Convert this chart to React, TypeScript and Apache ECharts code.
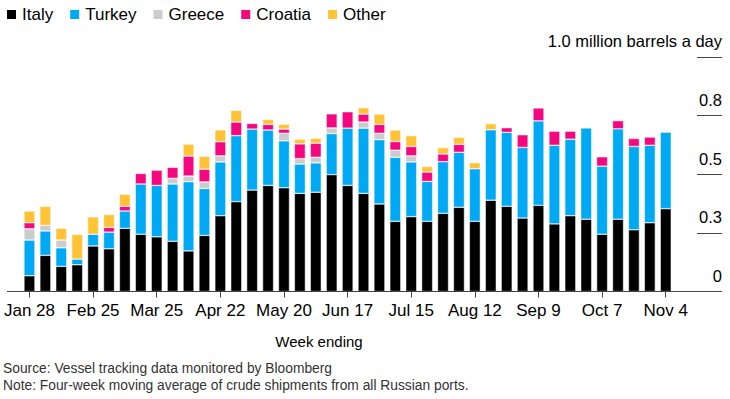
import React, { useEffect, useRef } from "react";
import * as echarts from "echarts";

const weeks = [
  "Jan 28", "Feb 4", "Feb 11", "Feb 18", "Feb 25", "Mar 4", "Mar 11", "Mar 18", "Mar 25",
  "Apr 1", "Apr 8", "Apr 15", "Apr 22", "Apr 29", "May 6", "May 13", "May 20", "May 27",
  "Jun 3", "Jun 10", "Jun 17", "Jun 24", "Jul 1", "Jul 8", "Jul 15", "Jul 22", "Jul 29",
  "Aug 5", "Aug 12", "Aug 19", "Aug 26", "Sep 2", "Sep 9", "Sep 16", "Sep 23", "Sep 30",
  "Oct 7", "Oct 14", "Oct 21", "Oct 28", "Nov 4",
];

const italy = [
  0.067, 0.154, 0.107, 0.114, 0.194, 0.182, 0.269, 0.244, 0.233, 0.214, 0.173, 0.239, 0.323,
  0.383, 0.432, 0.452, 0.442, 0.418, 0.423, 0.498, 0.452, 0.418, 0.373, 0.299, 0.319, 0.299,
  0.333, 0.359, 0.299, 0.389, 0.363, 0.313, 0.367, 0.288, 0.323, 0.308, 0.244, 0.308, 0.263,
  0.293, 0.353,
];
const turkey = [
  0.152, 0.104, 0.079, 0.024, 0.05, 0.071, 0.074, 0.214, 0.219, 0.244, 0.295, 0.2, 0.229,
  0.281, 0.26, 0.236, 0.2, 0.125, 0.125, 0.175, 0.244, 0.278, 0.274, 0.273, 0.233, 0.17,
  0.22, 0.234, 0.224, 0.3, 0.315, 0.301, 0.36, 0.335, 0.326, 0.389, 0.29, 0.385, 0.355,
  0.33, 0.326,
];
const greece = [
  0.048, 0.024, 0.033, 0, 0, 0, 0, 0, 0, 0.024, 0.024, 0.028, 0.026, 0, 0, 0, 0.032, 0.023,
  0.024, 0.024, 0, 0.026, 0.027, 0.03, 0.026, 0, 0, 0, 0, 0, 0, 0, 0, 0, 0, 0, 0, 0, 0, 0, 0,
];
const croatia = [
  0.026, 0, 0, 0, 0, 0.02, 0.02, 0.045, 0.065, 0.047, 0.085, 0.054, 0.06, 0.058, 0.024,
  0.024, 0.018, 0.063, 0.06, 0.06, 0.07, 0.034, 0.038, 0.037, 0.04, 0.04, 0.033, 0.034, 0,
  0, 0.02, 0.054, 0.055, 0.06, 0.034, 0, 0.04, 0.035, 0.034, 0.035, 0,
];
const other = [
  0.05, 0.081, 0.05, 0.105, 0.074, 0.055, 0.051, 0, 0, 0, 0.051, 0.055, 0.051, 0.05, 0,
  0.021, 0.021, 0.02, 0.021, 0, 0, 0.027, 0.044, 0.049, 0.046, 0.024, 0.027, 0.03, 0.026,
  0.026, 0, 0, 0, 0, 0, 0, 0, 0, 0, 0, 0,
];

const seriesNames = ["Italy", "Turkey", "Greece", "Croatia", "Other"];
const seriesColors = ["#000000", "#00a9f4", "#cccccc", "#f5077f", "#ffc335"];
const seriesData = [italy, turkey, greece, croatia, other];

const yTicks = [0, 0.25, 0.5, 0.75, 1];
const yTickLabels = ["0", "0.3", "0.5", "0.8", "1.0 million barrels a day"];

const FONT = "'Liberation Sans', Arial, Helvetica, sans-serif";

export default function App() {
  const ref = useRef<HTMLDivElement>(null);

  useEffect(() => {
    if (!ref.current) return;
    const chart = echarts.init(ref.current, null, { renderer: "svg" });
    chart.setOption({
      animation: false,
      backgroundColor: "#ffffff",
      textStyle: { fontFamily: FONT },
      legend: {
        left: 5,
        top: 6,
        padding: 0,
        icon: "rect",
        itemWidth: 11,
        itemHeight: 11,
        itemGap: 15,
        selectedMode: false,
        textStyle: { fontSize: 17, color: "#000", fontFamily: FONT },
        data: seriesNames,
      },
      grid: { left: 21.5, right: 56.3, top: 56.8, bottom: 107.5 },
      xAxis: {
        type: "category",
        data: weeks,
        axisLine: { show: false },
        axisTick: {
          show: true,
          alignWithLabel: true,
          interval: 3,
          length: 6,
          lineStyle: { color: "#444", width: 1 },
        },
        axisLabel: {
          interval: 3,
          fontSize: 17,
          color: "#000",
          margin: 10,
          fontFamily: FONT,
        },
      },
      yAxis: {
        type: "value",
        min: 0,
        max: 1,
        interval: 0.25,
        position: "right",
        offset: 48.3,
        splitLine: { show: false },
        axisLine: { show: false },
        axisTick: { show: true, inside: true, length: 25, lineStyle: { color: "#444", width: 1 } },
        axisLabel: {
          inside: true,
          margin: 0,
          fontSize: 16.5,
          color: "#000",
          fontFamily: FONT,
          align: "right",
          verticalAlign: "bottom",
          padding: [0, 0, 7, 0],
          formatter: (v: number) => {
            const i = yTicks.findIndex((t) => Math.abs(t - v) < 1e-6);
            return i >= 0 ? yTickLabels[i] : "";
          },
        },
      },
      series: seriesNames.map((name, i) => ({
        name,
        type: "bar",
        stack: "total",
        barWidth: 11,
        itemStyle: { color: seriesColors[i], borderColor: "#ffffff", borderWidth: 0.5 },
        data: seriesData[i].map((v) => (v > 0 ? v : null)),
      })),
      graphic: [
        {
          type: "line",
          shape: { x1: 7, y1: 291.5, x2: 722, y2: 291.5 },
          style: { stroke: "#444", lineWidth: 1 },
          z: 10,
        },
        {
          type: "text",
          x: 319,
          y: 341,
          style: {
            text: "Week ending",
            fontSize: 15,
            fill: "#000",
            fontFamily: FONT,
            align: "center",
            verticalAlign: "middle",
          },
        },
        {
          type: "text",
          x: 3,
          y: 368,
          style: {
            text: "Source: Vessel tracking data monitored by Bloomberg",
            fontSize: 13.8,
            fill: "#333",
            fontFamily: FONT,
            align: "left",
            verticalAlign: "middle",
          },
        },
        {
          type: "text",
          x: 3,
          y: 385,
          style: {
            text: "Note: Four-week moving average of crude shipments from all Russian ports.",
            fontSize: 13.8,
            fill: "#333",
            fontFamily: FONT,
            align: "left",
            verticalAlign: "middle",
          },
        },
      ],
    });
    return () => chart.dispose();
  }, []);

  return (
    <div
      ref={ref}
      style={{ position: "absolute", left: 0, top: 0, width: 730, height: 399 }}
    />
  );
}
